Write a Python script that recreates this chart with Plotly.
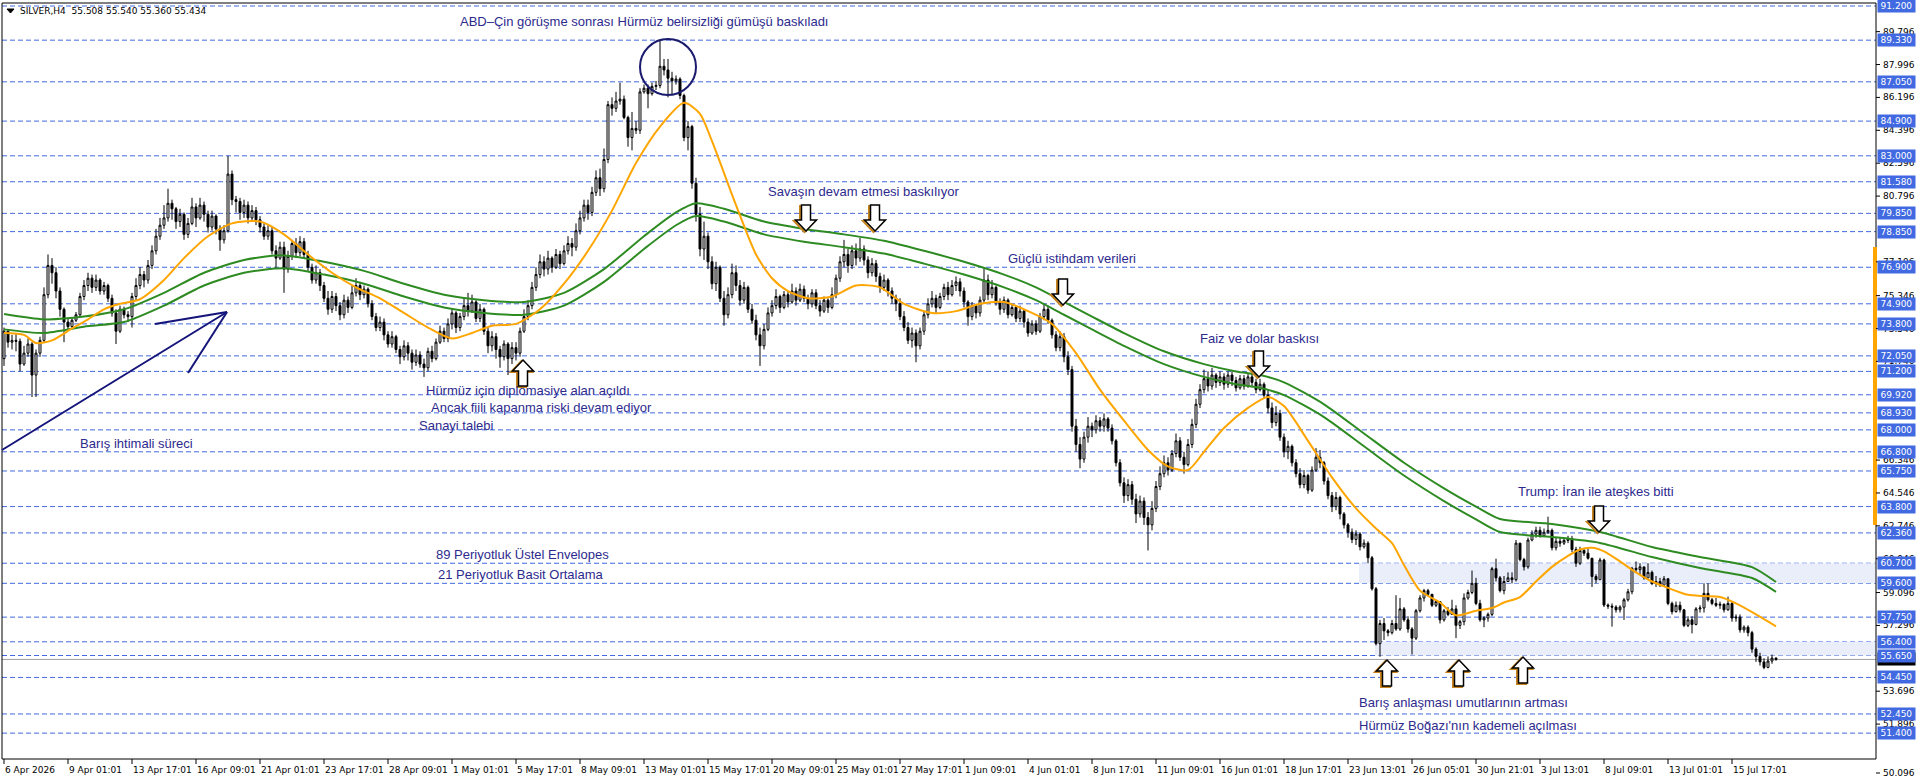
import plotly.graph_objects as go

W, H = 1916, 781
PX_L, PX_R, PX_T, PX_B = 2, 1876, 3, 759
Y_TOP, Y_BOT = 91.364, 49.985
X0, X1 = -0.5, 468.0

def xp(px):
    return px / W

def yp(py):
    return 1 - py / H

# ---------------- DATA ----------------
first_open = 71.90
closes = [
    73.40, 72.80, 72.90, 72.85, 71.60, 72.20, 72.70, 71.00, 72.20, 72.90, 75.40, 77.00, 76.60, 75.60, 74.60, 73.90,
    73.65, 74.00, 74.30, 75.30, 75.90, 76.30, 75.80, 76.20, 75.60, 75.90, 75.20, 74.40, 73.40, 74.60, 74.30, 74.20,
    75.30, 75.90, 76.50, 76.20, 77.00, 77.80, 78.60, 79.20, 79.60, 80.40, 80.10, 79.40, 79.80, 78.70, 79.30, 80.20,
    79.60, 80.30, 79.80, 79.10, 79.70, 79.00, 78.40, 78.90, 82.00, 80.60, 80.50, 79.90, 80.30, 79.60, 80.00, 79.50,
    79.10, 78.60, 78.90, 77.80, 77.40, 78.00, 76.80, 77.50, 78.20, 77.70, 78.30, 77.60, 76.90, 76.20, 76.60, 75.90,
    75.20, 74.60, 75.30, 74.80, 74.30, 75.10, 74.70, 75.50, 75.90, 75.40, 75.70, 74.90, 74.20, 73.60, 73.90, 73.20,
    72.70, 73.10, 72.40, 72.00, 72.60, 72.20, 71.70, 72.10, 71.60, 71.40, 72.30, 71.90, 72.80, 73.40, 73.00, 73.80,
    74.40, 73.60, 74.20, 74.80, 74.50, 75.00, 74.10, 74.60, 73.40, 72.60, 73.10, 72.40, 72.00, 72.70, 71.90, 72.50,
    72.20, 73.40, 74.20, 74.80, 75.80, 76.50, 77.20, 76.80, 77.40, 76.90, 77.60, 77.10, 77.80, 78.20, 78.00, 78.90,
    79.60, 80.30, 79.90, 81.00, 81.80, 81.20, 82.80, 85.80, 85.60, 86.00, 86.10, 85.10, 84.00, 84.50, 84.40, 86.50,
    86.70, 86.40, 86.80, 86.85, 87.90, 87.70, 87.25, 87.10, 87.20, 86.30, 84.00, 84.60, 81.50, 79.80, 77.90, 78.60,
    77.20, 76.00, 76.90, 75.20, 74.30, 75.40, 76.60, 75.90, 75.10, 75.80, 74.60, 74.00, 73.20, 72.60, 73.50, 74.40,
    74.80, 75.30, 74.70, 75.40, 75.00, 75.60, 75.10, 75.70, 75.20, 74.90, 75.50, 74.80, 74.50, 75.10, 74.70, 75.40,
    76.30, 77.20, 77.60, 77.00, 77.80, 77.40, 77.90, 77.30, 76.60, 77.10, 76.40, 75.80, 76.20, 75.60, 75.20, 74.90,
    74.20, 73.60, 72.90, 73.30, 72.60, 73.40, 74.30, 74.90, 75.20, 74.70, 75.30, 75.80, 75.40, 75.90, 76.10, 75.60,
    75.00, 74.20, 74.80, 74.40, 75.10, 76.20, 75.40, 75.80, 75.00, 74.60, 75.10, 74.30, 74.70, 74.10, 74.50, 73.90,
    73.30, 73.80, 73.40, 74.20, 74.60, 74.00, 73.20, 72.50, 73.10, 72.00, 71.30, 68.20, 67.20, 66.40, 67.60, 68.20,
    68.00, 68.50, 68.20, 68.60, 68.10, 67.40, 66.20, 65.10, 64.40, 65.00, 64.20, 63.40, 64.10, 63.20, 62.80, 63.70,
    64.90, 65.60, 66.20, 65.80, 66.70, 67.40, 66.50, 66.10, 67.20, 68.30, 69.40, 70.20, 70.80, 70.40, 71.00, 70.60,
    70.90, 70.50, 71.00, 70.70, 70.30, 70.80, 70.40, 70.90, 70.60, 70.20, 70.50, 69.90, 69.20, 68.40, 68.90, 67.60,
    66.80, 67.10, 66.20, 65.60, 65.00, 65.50, 64.70, 65.80, 66.50, 66.20, 65.20, 64.40, 63.80, 64.30, 63.40, 62.80,
    62.40, 62.00, 62.30, 61.60, 61.80, 61.00, 59.30, 56.30, 57.40, 57.00, 56.90, 57.40, 57.10, 58.20, 57.60, 57.10,
    56.60, 58.10, 58.80, 59.20, 59.00, 58.40, 58.60, 57.60, 58.10, 57.90, 58.20, 57.30, 57.50, 58.80, 59.10, 59.60,
    58.50, 57.60, 57.70, 57.90, 60.40, 59.90, 59.20, 59.70, 59.90, 59.80, 61.80, 60.90, 60.50, 61.97, 62.30, 62.50,
    62.20, 62.40, 62.50, 61.55, 61.90, 61.80, 61.95, 62.05, 61.45, 60.70, 61.40, 61.25, 60.97, 59.97, 59.80, 60.88,
    58.41, 58.35, 58.30, 58.15, 58.30, 58.70, 59.14, 60.42, 60.35, 60.50, 59.90, 60.20, 59.60, 59.70, 59.50, 59.85,
    58.50, 58.05, 58.40, 58.15, 57.30, 57.60, 57.35, 58.20, 58.25, 59.05, 58.70, 58.50, 58.40, 58.45, 58.15, 58.50,
    57.70, 57.75, 57.05, 57.20, 56.90, 56.00, 55.60, 55.30, 55.00, 55.35, 55.508, 55.434,
]
highs = [
    73.60, 73.50, 73.20, 73.30, 73.00, 72.60, 73.00, 72.80, 72.40, 73.10, 75.80, 77.60, 77.40, 76.90, 75.80, 74.70,
    74.10, 74.10, 74.45, 75.50, 76.20, 76.60, 76.50, 76.50, 76.30, 76.10, 76.00, 75.40, 74.60, 74.80, 74.75, 74.50,
    75.50, 76.30, 76.90, 76.70, 77.30, 78.10, 79.00, 79.60, 80.30, 81.20, 80.60, 80.20, 80.10, 79.90, 79.60, 80.70,
    80.40, 80.70, 80.50, 80.00, 80.00, 79.80, 79.20, 79.20, 83.00, 82.20, 80.80, 80.70, 80.60, 80.50, 80.30, 80.20,
    79.70, 79.30, 79.20, 79.10, 78.10, 78.30, 78.30, 77.80, 78.40, 78.50, 78.60, 78.50, 77.80, 77.10, 77.00, 76.80,
    76.10, 75.60, 75.60, 75.50, 75.00, 75.40, 75.30, 75.90, 76.30, 76.10, 75.90, 75.80, 75.10, 74.40, 74.20, 74.10,
    73.40, 73.40, 73.20, 72.60, 72.90, 72.80, 72.40, 72.40, 72.30, 71.90, 72.50, 72.60, 73.00, 73.70, 73.60, 74.10,
    74.60, 74.50, 74.40, 75.20, 75.50, 75.40, 75.10, 74.90, 74.70, 73.60, 73.40, 73.30, 72.60, 72.90, 72.80, 72.80,
    72.80, 73.60, 74.60, 75.10, 76.10, 76.90, 77.60, 77.50, 77.80, 77.50, 77.90, 77.80, 78.10, 78.60, 78.50, 79.30,
    80.00, 80.60, 80.60, 81.30, 82.20, 82.30, 83.40, 86.00, 86.20, 86.50, 87.00, 86.30, 85.20, 85.40, 84.90, 86.70,
    86.90, 86.90, 87.00, 87.10, 89.35, 88.30, 88.30, 87.60, 87.40, 87.30, 86.40, 84.90, 84.70, 81.80, 80.20, 79.40,
    78.80, 77.50, 77.20, 77.00, 75.60, 75.80, 77.10, 77.00, 76.20, 76.10, 75.90, 74.90, 74.30, 73.60, 73.80, 74.70,
    75.10, 75.70, 75.40, 75.60, 75.60, 76.00, 75.80, 76.00, 75.90, 75.40, 75.70, 75.70, 75.10, 75.30, 75.20, 75.80,
    76.50, 77.50, 78.40, 77.90, 78.10, 78.20, 78.50, 78.10, 77.50, 77.40, 77.30, 76.60, 76.50, 76.30, 75.80, 75.40,
    75.20, 74.50, 73.90, 73.60, 73.50, 73.60, 74.50, 75.20, 75.60, 75.40, 75.50, 76.00, 76.10, 76.20, 76.40, 76.30,
    75.80, 75.10, 75.00, 74.90, 75.30, 76.90, 76.50, 76.20, 75.90, 75.20, 75.30, 75.20, 74.90, 74.80, 74.80, 74.60,
    74.10, 74.00, 74.00, 74.40, 74.90, 74.80, 74.10, 73.40, 73.40, 73.30, 72.30, 71.50, 68.60, 67.60, 67.90, 68.70,
    68.40, 68.80, 68.70, 68.90, 68.70, 68.30, 67.50, 66.40, 65.40, 65.30, 65.20, 64.50, 64.40, 64.30, 63.50, 64.10,
    65.20, 66.00, 66.60, 66.50, 66.90, 67.80, 67.60, 66.80, 67.50, 68.60, 69.70, 70.50, 71.30, 71.20, 71.40, 71.10,
    71.20, 71.10, 71.20, 71.20, 70.90, 71.00, 71.00, 71.10, 71.10, 70.80, 70.80, 70.60, 70.20, 69.50, 69.30, 69.10,
    67.80, 67.40, 67.20, 66.40, 65.90, 65.80, 65.60, 66.00, 67.00, 66.90, 66.30, 65.40, 64.60, 64.60, 64.40, 63.50,
    62.90, 62.60, 62.50, 62.40, 62.00, 61.90, 61.10, 59.40, 57.60, 57.70, 57.10, 57.60, 58.95, 58.80, 58.30, 57.80,
    57.20, 58.20, 58.95, 59.30, 59.30, 59.00, 58.70, 58.60, 58.20, 58.30, 58.70, 58.40, 57.60, 59.05, 59.25, 60.30,
    59.90, 58.70, 57.80, 58.00, 60.50, 60.95, 60.00, 60.00, 60.20, 60.20, 61.97, 61.80, 61.00, 62.10, 62.50, 62.70,
    62.70, 62.60, 63.25, 62.60, 62.10, 62.10, 62.10, 62.20, 62.20, 61.60, 61.60, 61.50, 61.50, 61.00, 60.10, 61.00,
    60.95, 58.50, 58.50, 58.40, 58.40, 58.80, 59.30, 60.50, 60.80, 60.70, 60.40, 60.70, 60.30, 60.00, 59.90, 60.00,
    59.80, 58.60, 58.60, 58.60, 58.20, 57.80, 57.80, 58.30, 58.40, 59.60, 59.60, 58.80, 58.80, 58.60, 58.50, 58.87,
    58.60, 57.90, 57.90, 57.30, 57.30, 57.00, 56.10, 55.80, 55.50, 55.60, 55.70, 55.54,
]
lows = [
    71.50, 72.50, 72.40, 72.30, 71.20, 71.50, 72.00, 69.80, 69.80, 72.00, 72.80, 75.20, 76.00, 75.20, 74.20, 72.80,
    73.50, 73.55, 73.90, 74.20, 75.10, 75.60, 75.50, 75.60, 75.40, 75.40, 75.00, 74.20, 72.70, 73.30, 74.10, 73.90,
    73.60, 75.10, 75.70, 75.80, 76.00, 76.80, 77.60, 78.40, 79.00, 79.40, 79.50, 79.00, 79.10, 78.40, 78.50, 79.20,
    79.10, 79.50, 79.40, 78.80, 78.90, 78.70, 77.80, 78.20, 78.80, 80.30, 79.90, 79.50, 79.60, 79.30, 79.40, 79.20,
    78.80, 78.40, 78.40, 77.60, 76.80, 77.30, 75.50, 76.60, 77.30, 77.40, 77.50, 77.40, 76.70, 76.00, 76.00, 75.60,
    75.00, 74.30, 74.40, 74.50, 74.00, 74.10, 74.40, 74.60, 75.30, 75.10, 75.20, 74.70, 74.00, 73.40, 73.40, 72.90,
    72.50, 72.50, 72.20, 71.60, 71.80, 71.80, 71.30, 71.50, 71.40, 70.90, 71.20, 71.70, 71.80, 72.70, 72.80, 72.80,
    73.50, 73.30, 73.40, 74.00, 74.20, 74.40, 73.90, 73.90, 73.20, 72.20, 72.30, 71.90, 71.40, 71.80, 71.00, 71.60,
    71.80, 72.00, 73.30, 74.00, 74.60, 75.60, 76.30, 76.40, 76.50, 76.60, 76.80, 76.80, 77.00, 77.60, 77.50, 77.80,
    78.70, 79.40, 79.50, 79.70, 80.80, 80.80, 81.00, 82.60, 85.20, 85.40, 85.80, 85.00, 83.50, 83.30, 84.20, 84.20,
    86.40, 85.60, 86.30, 86.60, 86.70, 87.40, 86.20, 86.30, 86.90, 86.10, 83.80, 83.30, 81.20, 79.40, 77.50, 77.30,
    76.80, 75.70, 75.60, 75.00, 73.70, 74.10, 75.20, 75.60, 74.80, 74.90, 74.40, 73.80, 72.90, 71.50, 72.40, 73.40,
    74.20, 74.60, 74.40, 74.60, 74.70, 74.90, 74.80, 75.00, 75.00, 74.60, 74.70, 74.60, 74.20, 74.40, 74.40, 74.60,
    75.20, 76.10, 76.90, 76.60, 76.80, 77.00, 77.20, 77.00, 76.30, 76.40, 76.10, 75.50, 75.60, 75.30, 74.90, 74.50,
    74.00, 73.40, 72.70, 72.50, 71.70, 72.40, 73.20, 74.10, 74.70, 74.40, 74.60, 75.10, 75.10, 75.30, 75.60, 75.30,
    74.70, 73.70, 74.00, 74.10, 74.20, 74.90, 75.10, 75.20, 74.80, 74.30, 74.40, 74.10, 74.20, 73.90, 73.90, 73.60,
    73.10, 73.20, 73.20, 73.30, 74.00, 73.80, 73.00, 72.30, 72.30, 71.70, 71.00, 67.90, 66.80, 65.90, 66.20, 67.30,
    67.60, 67.80, 67.90, 67.90, 67.90, 67.20, 66.00, 64.90, 64.00, 64.10, 63.90, 62.90, 63.20, 62.80, 61.40, 62.50,
    63.50, 64.70, 65.40, 65.50, 65.70, 66.50, 66.30, 65.60, 66.00, 67.00, 68.10, 69.20, 70.00, 70.10, 70.20, 70.30,
    70.40, 70.20, 70.30, 70.40, 70.10, 70.20, 70.20, 70.30, 70.40, 70.00, 70.10, 69.70, 68.90, 68.10, 68.20, 67.40,
    66.50, 66.40, 66.00, 65.40, 64.80, 64.80, 64.50, 64.60, 65.70, 65.90, 65.00, 64.20, 63.50, 63.60, 63.10, 62.60,
    62.10, 61.80, 61.70, 61.40, 61.50, 60.70, 59.20, 56.20, 55.58, 56.50, 56.70, 56.80, 57.00, 57.00, 57.50, 56.90,
    55.70, 56.50, 58.00, 58.60, 58.90, 58.30, 58.30, 57.40, 57.50, 57.80, 57.90, 56.60, 57.10, 57.30, 58.70, 59.00,
    58.40, 57.50, 57.20, 57.50, 57.80, 59.70, 59.10, 59.00, 59.70, 59.60, 59.70, 60.80, 60.30, 60.40, 61.90, 62.10,
    62.10, 62.20, 62.30, 61.40, 61.40, 61.60, 61.70, 61.80, 61.30, 60.50, 60.60, 61.10, 60.90, 59.40, 59.60, 59.80,
    58.30, 58.20, 57.23, 58.00, 58.00, 57.60, 58.60, 59.00, 60.20, 60.10, 59.80, 59.90, 59.50, 59.40, 59.40, 59.50,
    58.40, 57.90, 58.00, 58.00, 57.20, 57.20, 56.86, 57.30, 58.00, 58.00, 58.60, 58.40, 58.30, 58.20, 58.00, 58.10,
    57.50, 57.50, 56.90, 56.90, 56.70, 55.80, 55.30, 55.10, 54.90, 54.95, 55.20, 55.36,
]

# 21-period simple moving average (orange), read at sample bars
sma_bars = [0, 5, 8, 12, 17, 21, 25, 29, 34, 40, 45, 51, 57, 64, 70, 76, 82, 88, 94, 100,
            106, 112, 117, 122, 128, 134, 140, 146, 152, 158, 164, 170, 174, 177, 183, 188, 192, 196, 201, 207,
            213, 219, 225, 232, 238, 244, 250, 256, 262, 268, 274, 280, 286, 291, 296, 300, 305, 311, 316, 320,
            326, 332, 338, 343, 347, 350, 354, 359, 363, 368, 372, 375, 379, 383, 387, 391, 394, 397, 400, 404,
            408, 412, 416, 421, 425, 429, 433, 438, 443]
sma_vals = [73.3, 73.2, 72.75, 72.9, 73.55, 74.05, 74.6, 74.9, 75.15, 76.2, 77.4, 78.6, 79.3, 79.4, 78.7, 77.6, 76.6, 75.8, 75.2, 74.4,
            73.6, 73.0, 73.3, 73.7, 73.8, 74.6, 76.0, 77.8, 80.0, 82.6, 84.6, 85.9, 85.3, 83.8, 80.3, 77.6, 76.3, 75.6, 75.2, 75.3,
            75.9, 75.8, 74.9, 74.4, 74.5, 74.9, 75.0, 74.5, 73.8, 72.2, 70.2, 68.5, 66.9, 66.0, 65.8, 66.8, 68.1, 69.2, 69.8, 69.3,
            67.4, 65.4, 63.7, 62.6, 61.8, 60.6, 59.2, 58.55, 57.85, 58.1, 58.25, 58.55, 58.85, 59.7, 60.5, 61.1, 61.45, 61.55, 61.35, 60.8,
            60.2, 59.7, 59.35, 58.97, 58.9, 58.85, 58.5, 57.9, 57.25]

# 89-period exponential envelopes (green), read at sample bars
env_bars = [0, 10, 20, 30, 40, 50, 60, 70, 80, 90, 100, 110, 120, 130, 140, 150, 160, 168, 173, 180,
            190, 200, 210, 220, 230, 240, 250, 258, 265, 272, 280, 290, 300, 308, 314, 320, 330, 340, 350, 360,
            368, 374, 387, 399, 412, 424, 437, 443]
env_up = [74.34, 74.05, 74.2, 74.6, 75.5, 76.6, 77.3, 77.55, 77.2, 76.7, 76.0, 75.4, 75.1, 75.0, 75.5, 76.8, 78.6, 79.9, 80.4, 80.1,
          79.4, 79.0, 78.7, 78.35, 77.8, 77.2, 76.5, 75.8, 75.0, 74.2, 73.3, 72.3, 71.6, 71.2, 71.0, 70.6, 69.4, 67.8, 66.2, 64.8,
          63.8, 63.12, 62.85, 62.41, 61.59, 61.04, 60.49, 59.67]
env_lo = [73.5, 73.3, 73.65, 73.9, 74.8, 75.9, 76.6, 76.85, 76.5, 76.0, 75.3, 74.7, 74.4, 74.3, 74.8, 76.1, 77.9, 79.2, 79.7, 79.4,
          78.7, 78.3, 78.0, 77.65, 77.1, 76.5, 75.8, 75.1, 74.3, 73.5, 72.6, 71.6, 70.9, 70.5, 70.3, 69.9, 68.7, 67.1, 65.5, 64.1,
          63.1, 62.41, 62.14, 61.81, 61.04, 60.44, 59.89, 59.13]

# horizontal levels (blue dashed lines with labels on the price scale)
levels = [91.2, 89.33, 87.05, 84.9, 83.0, 81.58, 79.85, 78.85, 76.9, 74.9, 73.8, 72.05, 71.2, 69.92,
          68.93, 68.0, 66.8, 65.75, 63.8, 62.36, 60.7, 59.6, 57.75, 56.4, 55.65, 54.45, 52.45, 51.4]
# price scale ticks that are visible (the others are covered by the level boxes)
scale_ticks = [89.796, 87.996, 86.196, 84.396, 82.596, 80.796, 77.196, 75.346, 73.546, 71.746,
               66.346, 64.546, 62.746, 60.946, 59.096, 57.296, 53.696, 51.896]
bottom_tick = "50.096"
bid = 55.434
# shaded zones (price ranges, start bar)
zones = [(60.7, 59.6, 338.75), (56.4, 55.65, 342.75)]

# time scale
time_labels = ["6 Apr 2026", "9 Apr 01:01", "13 Apr 17:01", "16 Apr 09:01", "21 Apr 01:01", "23 Apr 17:01",
               "28 Apr 09:01", "1 May 01:01", "5 May 17:01", "8 May 09:01", "13 May 01:01", "15 May 17:01",
               "20 May 09:01", "25 May 01:01", "27 May 17:01", "1 Jun 09:01", "4 Jun 01:01", "8 Jun 17:01",
               "11 Jun 09:01", "16 Jun 01:01", "18 Jun 17:01", "23 Jun 13:01", "26 Jun 05:01", "30 Jun 21:01",
               "3 Jul 13:01", "8 Jul 09:01", "13 Jul 01:01", "15 Jul 17:01"]
time_label_bars = [0, 16, 32, 48, 64, 80, 96, 112, 128, 144, 160, 176, 192, 208, 224, 240, 256, 272,
                   288, 304, 320, 336, 352, 368, 384, 400, 416, 432]

header = "SILVER,H4  55.508 55.540 55.360 55.434"

notes = [
    ("ABD\u2013Çin görüşme sonrası Hürmüz belirsizliği gümüşü baskıladı", 458, 22),
    ("Savaşın devam etmesi baskılıyor", 766, 192),
    ("Güçlü istihdam verileri", 1006, 259),
    ("Faiz ve dolar baskısı", 1198, 338),
    ("Hürmüz için diplomasiye alan açıldı", 424, 391),
    ("Ancak fiili kapanma riski devam ediyor", 429, 407),
    ("Sanayi talebi", 417, 426),
    ("Barış ihtimali süreci", 78, 443),
    ("Trump: İran ile ateşkes bitti", 1516, 492),
    ("89 Periyotluk Üstel Envelopes", 434, 554),
    ("21 Periyotluk Basit Ortalama", 436, 574),
    ("Barış anlaşması umutlarının artması", 1357, 702),
    ("Hürmüz Boğazı'nın kademeli açılması", 1357, 725),
]
# block arrows: (center x px, top y px, direction)
block_arrows = [(806, 205, "down"), (875, 205, "down"), (1063, 279, "down"), (1259, 351, "down"),
                (1599, 506, "down"), (523, 360, "up"), (1387, 660, "up"), (1459, 660, "up"), (1523, 657, "up")]

# ---------------- FIGURE ----------------
bars = list(range(len(closes)))
opens = [first_open] + closes[:-1]
highs = [max(h, o, c) for h, o, c in zip(highs, opens, closes)]
lows = [min(l, o, c) for l, o, c in zip(lows, opens, closes)]

LEVEL_BLUE = "#4169E1"
TEXT_COL = "#2D2A8E"
NAVY = "#14147A"

fig = go.Figure()
fig.add_trace(go.Candlestick(
    x=bars, open=opens, high=highs, low=lows, close=closes,
    increasing=dict(line=dict(color="black", width=1), fillcolor="white"),
    decreasing=dict(line=dict(color="black", width=1), fillcolor="black"),
    whiskerwidth=0, hoverinfo="skip", showlegend=False))
fig.add_trace(go.Scatter(x=env_bars, y=env_up, mode="lines",
                         line=dict(color="#2E8B22", width=2, shape="spline", smoothing=0.7),
                         hoverinfo="skip", showlegend=False))
fig.add_trace(go.Scatter(x=env_bars, y=env_lo, mode="lines",
                         line=dict(color="#2E8B22", width=2, shape="spline", smoothing=0.7),
                         hoverinfo="skip", showlegend=False))
fig.add_trace(go.Scatter(x=sma_bars, y=sma_vals, mode="lines",
                         line=dict(color="#FFA500", width=2, shape="spline", smoothing=0.7),
                         hoverinfo="skip", showlegend=False))

shapes = []
# shaded zones
for top, bot, start in zones:
    shapes.append(dict(type="rect", xref="x", yref="y", x0=start, x1=X1, y0=bot, y1=top,
                       fillcolor="#E9EEFA", line=dict(width=0), layer="below"))
# level lines
for lv in levels:
    shapes.append(dict(type="line", xref="paper", yref="y", x0=xp(PX_L), x1=xp(PX_R), y0=lv, y1=lv,
                       line=dict(color=LEVEL_BLUE, width=1, dash="5px,3px"), layer="below"))
# bid line
shapes.append(dict(type="line", xref="paper", yref="y", x0=xp(PX_L), x1=xp(PX_R), y0=bid, y1=bid,
                   line=dict(color="#A0A0A0", width=1), layer="below"))
# frame
shapes.append(dict(type="line", xref="paper", yref="paper", x0=xp(PX_L), x1=xp(PX_R), y0=yp(PX_T), y1=yp(PX_T),
                   line=dict(color="black", width=1)))
shapes.append(dict(type="line", xref="paper", yref="paper", x0=xp(PX_L), x1=xp(PX_L), y0=yp(PX_T), y1=yp(PX_B),
                   line=dict(color="black", width=1)))
shapes.append(dict(type="line", xref="paper", yref="paper", x0=xp(PX_R), x1=xp(PX_R), y0=yp(PX_T), y1=yp(PX_B),
                   line=dict(color="black", width=1)))
shapes.append(dict(type="line", xref="paper", yref="paper", x0=xp(PX_L), x1=xp(PX_R), y0=yp(PX_B), y1=yp(PX_B),
                   line=dict(color="black", width=1)))
# orange marker on the price scale
shapes.append(dict(type="rect", xref="paper", yref="paper", x0=xp(1873), x1=xp(1877), y0=yp(525), y1=yp(247),
                   fillcolor="#FFA500", line=dict(width=0)))
# price scale ticks
for t in scale_ticks:
    shapes.append(dict(type="line", xref="paper", yref="y", x0=xp(PX_R), x1=xp(PX_R + 4), y0=t, y1=t,
                       line=dict(color="black", width=1)))
shapes.append(dict(type="line", xref="paper", yref="paper", x0=xp(PX_R), x1=xp(PX_R + 4), y0=yp(773), y1=yp(773),
                   line=dict(color="black", width=1)))
# time scale ticks
for b in time_label_bars:
    shapes.append(dict(type="line", xref="x", yref="paper", x0=b, x1=b, y0=yp(PX_B), y1=yp(PX_B + 5),
                       line=dict(color="black", width=1)))
# circle at the top
shapes.append(dict(type="circle", xref="paper", yref="paper", x0=xp(640), x1=xp(696), y0=yp(95), y1=yp(39),
                   line=dict(color="#1B1B6E", width=2)))
# drawn arrow (trend line with head)
for (ax, ay, bx, by) in [(2, 450, 227, 312), (155, 324, 227, 312), (188, 373, 227, 312)]:
    shapes.append(dict(type="line", xref="paper", yref="paper", x0=xp(ax), y0=yp(ay), x1=xp(bx), y1=yp(by),
                       line=dict(color=NAVY, width=2)))
# header triangle
shapes.append(dict(type="path", xref="paper", yref="paper",
                   path=f"M {xp(7)},{yp(9)} L {xp(14)},{yp(9)} L {xp(10.5)},{yp(13)} Z",
                   fillcolor="black", line=dict(color="black", width=1)))


def arrow_path(cx, top, direction, dx=0.0, dy=0.0):
    ws, wh, h, hh = 4.5, 10.5, 26, 11
    cx += dx
    top += dy
    if direction == "down":
        pts = [(cx - ws, top), (cx + ws, top), (cx + ws, top + h - hh), (cx + wh, top + h - hh),
               (cx, top + h), (cx - wh, top + h - hh), (cx - ws, top + h - hh)]
    else:
        pts = [(cx, top), (cx + wh, top + hh), (cx + ws, top + hh), (cx + ws, top + h),
               (cx - ws, top + h), (cx - ws, top + hh), (cx - wh, top + hh)]
    return "M " + " L ".join(f"{xp(x):.6f},{yp(y):.6f}" for x, y in pts) + " Z"


for cx, top, d in block_arrows:
    shapes.append(dict(type="path", xref="paper", yref="paper", path=arrow_path(cx, top, d, -1.5, 1.0),
                       fillcolor="rgba(0,0,0,0)", line=dict(color="#C8841E", width=2)))
    shapes.append(dict(type="path", xref="paper", yref="paper", path=arrow_path(cx, top, d),
                       fillcolor="white", line=dict(color="black", width=1.5)))

ann = []
SCALE_FONT = dict(family="DejaVu Sans", size=9, color="black")
# scale labels
for t in scale_ticks:
    ann.append(dict(xref="paper", yref="y", x=xp(PX_R + 5), y=t, text=f"{t:.3f}", showarrow=False,
                    xanchor="left", yanchor="middle", font=SCALE_FONT))
ann.append(dict(xref="paper", yref="paper", x=xp(PX_R + 5), y=yp(773), text=bottom_tick, showarrow=False,
                xanchor="left", yanchor="middle", font=SCALE_FONT))
# bid box
ann.append(dict(xref="paper", yref="y", x=xp(PX_R + 1), y=bid, text=f"{bid:.3f}", showarrow=False,
                xanchor="left", yanchor="middle", bgcolor="black", width=37, height=12, borderpad=0,
                font=dict(family="DejaVu Sans", size=9, color="white")))
# level boxes
for lv in levels:
    ann.append(dict(xref="paper", yref="y", x=xp(PX_R + 1), y=lv, text=f"{lv:.3f}", showarrow=False,
                    xanchor="left", yanchor="middle", bgcolor=LEVEL_BLUE, width=37, height=12, borderpad=0,
                    font=dict(family="DejaVu Sans", size=9, color="white")))
# time labels
for lab, b in zip(time_labels, time_label_bars):
    ann.append(dict(xref="x", yref="paper", x=b, y=yp(770), text=lab, showarrow=False,
                    xanchor="left", yanchor="middle", xshift=-1, font=SCALE_FONT))
# header
ann.append(dict(xref="paper", yref="paper", x=xp(18), y=yp(11), text=header, showarrow=False,
                xanchor="left", yanchor="middle", font=SCALE_FONT))
# notes
for txt, x, y in notes:
    ann.append(dict(xref="paper", yref="paper", x=xp(x), y=yp(y), text=txt, showarrow=False,
                    xanchor="left", yanchor="middle",
                    font=dict(family="Liberation Sans, Arial", size=13, color=TEXT_COL)))

fig.update_layout(
    width=W, height=H, margin=dict(l=0, r=0, t=0, b=0),
    paper_bgcolor="white", plot_bgcolor="white", showlegend=False,
    xaxis=dict(domain=[xp(PX_L), xp(PX_R)], range=[X0, X1], visible=False,
               rangeslider=dict(visible=False), fixedrange=True),
    yaxis=dict(domain=[yp(PX_B), yp(PX_T)], range=[Y_BOT, Y_TOP], visible=False, fixedrange=True),
    shapes=shapes, annotations=ann,
)
fig.write_html("out.html")
